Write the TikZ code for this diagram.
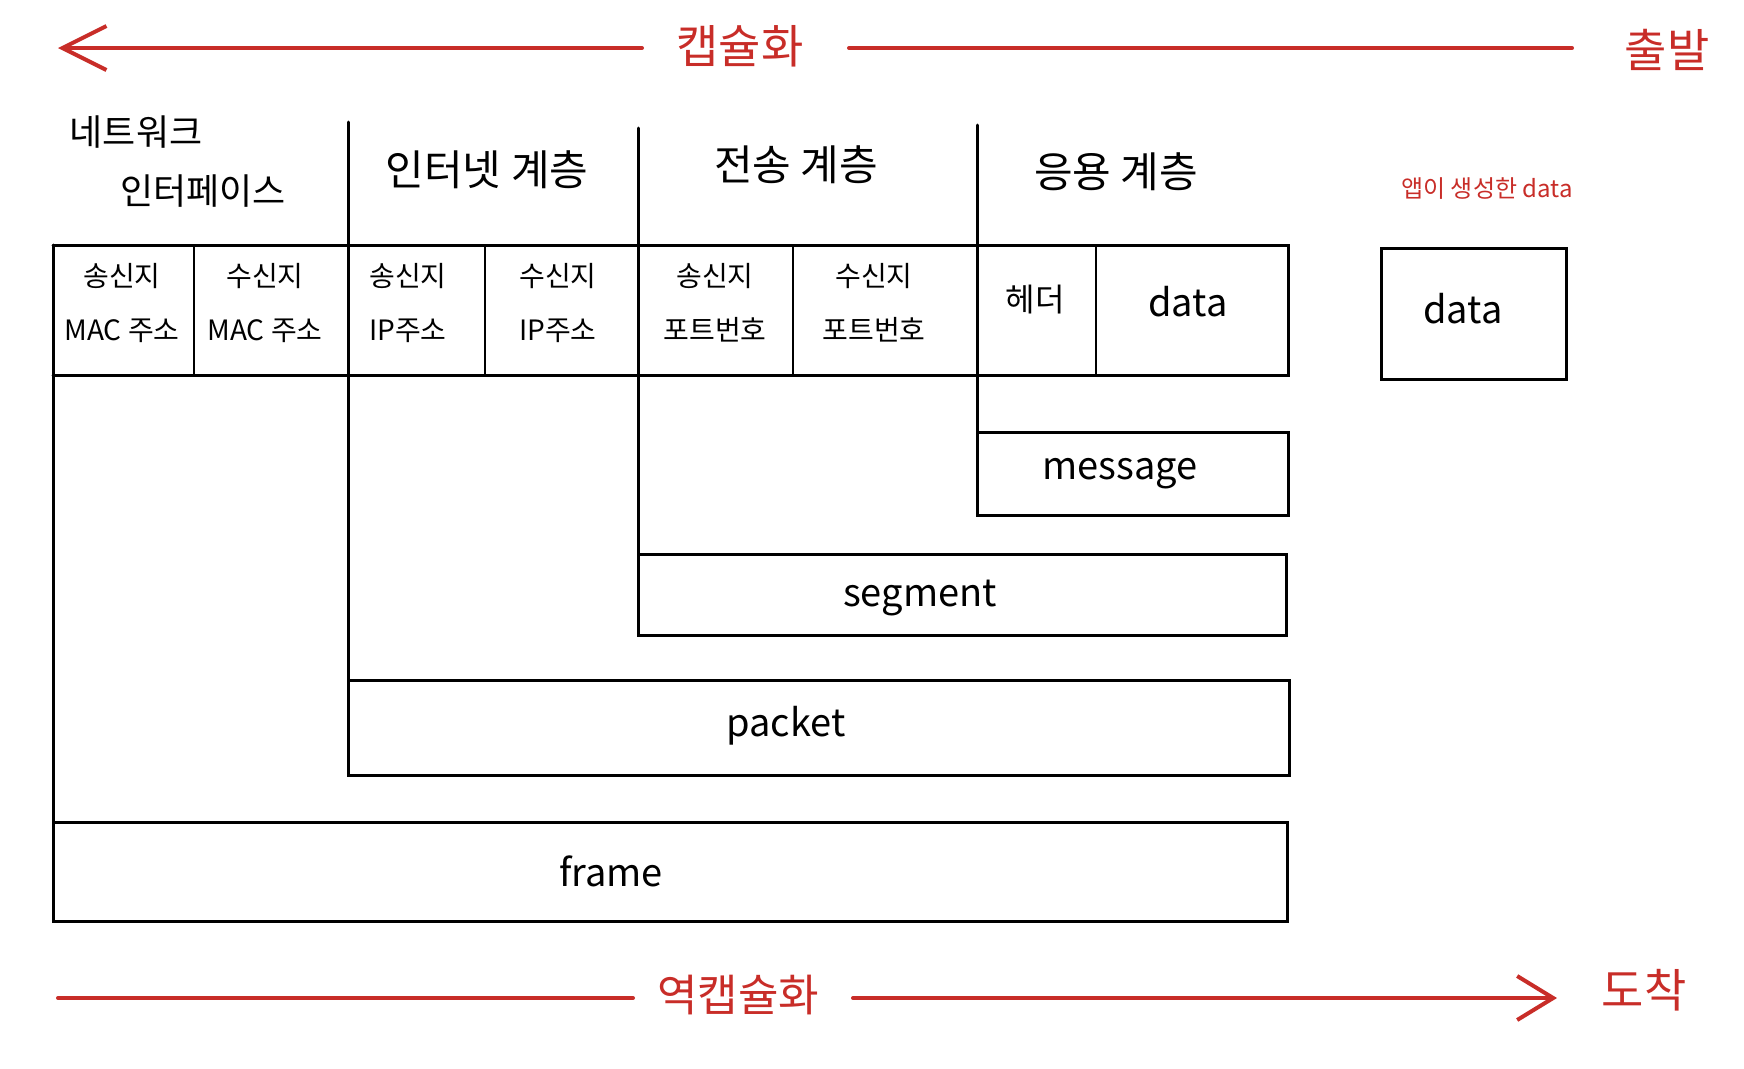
\documentclass[tikz,border=0pt]{standalone}
\usepackage{fontspec}
\setmainfont{Noto Sans CJK KR}
\usetikzlibrary{arrows.meta}
\definecolor{hred}{RGB}{200,45,40}
\begin{document}
\begin{tikzpicture}[x=1pt,y=-1pt,
  thickline/.style={line width=3pt, black, line cap=round},
  thinline/.style={line width=1.5pt, black},
  redline/.style={hred, line width=4pt, line cap=round},
  redlabel/.style={text=hred, font=\fontsize{46}{50}\selectfont, inner sep=0pt},
  layer/.style={font=\fontsize{42}{46}\selectfont, inner sep=0pt},
  cell/.style={font=\fontsize{28}{54}\selectfont, align=center, inner sep=0pt},
  pdubox/.style={draw, line width=3pt, inner sep=0pt, outer sep=0pt, anchor=north west},
  pdutext/.style={font=\fontsize{38}{40}\selectfont, inner sep=0pt}
]
\useasboundingbox (0,0) rectangle (1744,1068);

% ---- top arrow: encapsulation ----
\node[redlabel] (enc) at (740,46) {캡슐화};
\node[redlabel] (dep) at (1667,50) {출발};
\coordinate (encL) at (642,48);
\coordinate (encR) at (849,48);
\coordinate (depL) at (1572,48);
\coordinate (topTip) at (58,48);
\draw[redline, -{Straight Barb[length=44pt,width=44pt,line width=4pt]}] (encL) -- (topTip);
\draw[redline] (encR) -- (depL);

% ---- bottom arrow: decapsulation ----
\node[redlabel, font=\fontsize{44}{48}\selectfont] (dec) at (738,995) {역캡슐화};
\node[redlabel] (arr) at (1644,990) {도착};
\coordinate (botStart) at (58,998);
\coordinate (decL) at (633,998);
\coordinate (decR) at (853,998);
\coordinate (botTip) at (1557,998);
\draw[redline] (botStart) -- (decL);
\draw[redline, -{Straight Barb[length=36pt,width=44pt,line width=4pt]}] (decR) -- (botTip);

% ---- layer headers ----
\node[layer, font=\fontsize{36}{40}\selectfont] (nw1) at (136,132) {네트워크};
\node[layer, font=\fontsize{36}{40}\selectfont] (nw2) at (203,191) {인터페이스};
\node[layer] (inet) at (487,170) {인터넷 계층};
\node[layer] (trans) at (796,165) {전송 계층};
\node[layer] (app) at (1116,172) {응용 계층};

% ---- header row ----
\draw[thickline] (53,245) -- (1288,245) -- (1288,375) -- (53,375);
\draw[thickline] (53,245) -- (53,822);
\draw[thickline] (348,122) -- (348,680);
\draw[thickline] (638,128) -- (638,554);
\draw[thickline] (977,125) -- (977,432);
\draw[thinline] (194,245) -- (194,375);
\draw[thinline] (485,245) -- (485,375);
\draw[thinline] (793,245) -- (793,375);
\draw[thinline] (1096,245) -- (1096,375);

\node[cell] (smac) at (122,303) {송신지\\MAC 주소};
\node[cell] (dmac) at (265,303) {수신지\\MAC 주소};
\node[cell] (sip) at (408,303) {송신지\\IP주소};
\node[cell] (dip) at (558,303) {수신지\\IP주소};
\node[cell] (sport) at (715,303) {송신지\\포트번호};
\node[cell] (dport) at (874,303) {수신지\\포트번호};
\node[cell, font=\fontsize{32}{36}\selectfont] (hdr) at (1035,300) {헤더};
\node[pdutext] (cdata) at (1188,302) {data};

% ---- PDU boxes ----
\node[pdubox, minimum width=311pt, minimum height=83pt] (msgbox) at (977,432) {};
\node[pdutext] (msg) at (1120,474) {message};
\node[pdubox, minimum width=648pt, minimum height=81pt] (segbox) at (638,554) {};
\node[pdutext] (seg) at (920,598) {segment};
\node[pdubox, minimum width=941pt, minimum height=95pt] (pktbox) at (348,680) {};
\node[pdutext] (pkt) at (786,726) {packet};
\node[pdubox, minimum width=1234pt, minimum height=99pt] (frmbox) at (53,822) {};
\node[pdutext] (frm) at (611,871) {frame};

% ---- app data ----
\node[text=hred, font=\fontsize{24}{28}\selectfont, inner sep=0pt] (appnote) at (1487,189) {앱이 생성한 data};
\node[pdubox, minimum width=185pt, minimum height=131pt] (databox) at (1381,248) {};
\node[pdutext] (dtext) at (1463,309) {data};
\end{tikzpicture}
\end{document}
